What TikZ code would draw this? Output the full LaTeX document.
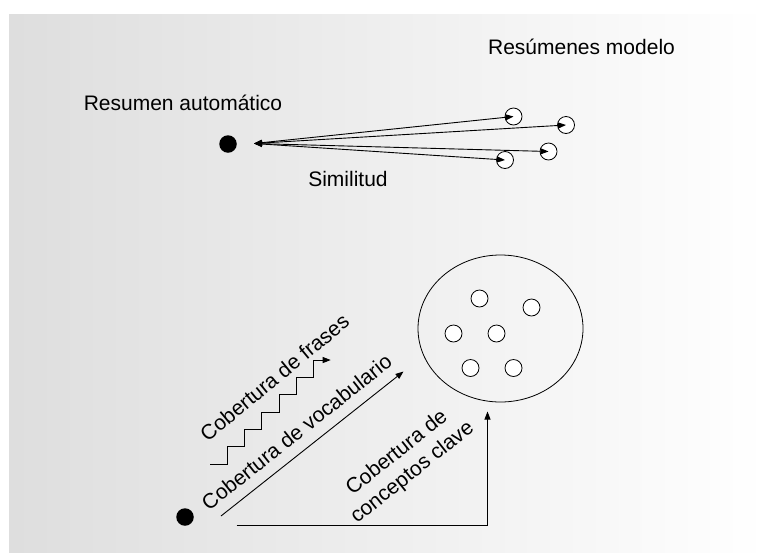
\documentclass[tikz,border=0pt]{standalone}
\usepackage{fontspec}
\setmainfont{Liberation Sans}
\usetikzlibrary{arrows.meta,shapes.geometric}
\tikzset{
  lbl/.style={font=\fontsize{21}{25}\selectfont, inner sep=0pt},
  dot/.style={circle, fill=black, minimum size=17.5pt, inner sep=0pt},
  hollow/.style={circle, draw, fill=white, line width=0.8pt, minimum size=17pt, inner sep=0pt},
  conn/.style={line width=0.9pt, -{Triangle[length=8pt,width=6pt]}},
  biconn/.style={line width=0.9pt, {Triangle[length=8pt,width=6pt]}-{Triangle[length=8pt,width=6pt]}},
}
\begin{document}
\begin{tikzpicture}[x=1pt, y=-1pt]
  % page and shaded panel
  \useasboundingbox (0,0) rectangle (767,552);
  \fill[white] (0,0) rectangle (767,552);
  \shade[left color=black!13, right color=white] (9,14) rectangle (767,552);

  % --- similarity between one summary and the model summaries ---
  \node[lbl, anchor=base] (ra) at (183,110) {Resumen automático};
  \node[lbl, anchor=base] (rm) at (581.5,54.6) {Resúmenes modelo};
  \node[lbl, anchor=base] (sim) at (348,186.6) {Similitud};

  \node[dot] (auto) at (228,144) {};
  \node[hollow] (m1) at (513.5,116.5) {};
  \node[hollow] (m2) at (566,125) {};
  \node[hollow] (m3) at (548.5,151.5) {};
  \node[hollow] (m4) at (505,160) {};
  \coordinate (hub) at (254,143.5);

  \foreach \m in {m1,m2,m3,m4}
    \draw[biconn] (hub) -- (\m.center);

  % --- coverage measures ---
  \node[draw, ellipse, line width=0.8pt, minimum width=165pt, minimum height=147pt, inner sep=0pt] (pool) at (500.5,328.5) {};
  \node[hollow] (c1) at (479.5,298.5) {};
  \node[hollow] (c2) at (531.5,307.5) {};
  \node[hollow] (c3) at (453.5,333.5) {};
  \node[hollow] (c4) at (496.5,333.5) {};
  \node[hollow] (c5) at (470.5,368) {};
  \node[hollow] (c6) at (513.5,368) {};

  \node[dot] (sum) at (185,517) {};

  % phrase coverage: staircase
  \coordinate (st0) at (210,464);
  \draw[conn] (st0) -- ++(17.5,0)
    \foreach \i in {1,...,6} { -- ++(0,-17.33) -- ++(17.2,0) };

  % vocabulary coverage: straight diagonal
  \coordinate (v0) at (221,516);
  \coordinate (v1) at (403.5,371.5);
  \draw[conn] (v0) -- (v1);

  % key concept coverage: right then up
  \coordinate (k0) at (236.5,525);
  \coordinate (k1) at (487.5,411.5);
  \draw[conn] (k0) -| (k1);

  \node[lbl, rotate=39.5] (tf) at (274.5,377.5) {Cobertura de frases};
  \node[lbl, rotate=38.5] (tv) at (296.5,432) {Cobertura de vocabulario};
  \node[lbl, rotate=38.5, align=center] (tk) at (405,463) {Cobertura de\\conceptos clave};
\end{tikzpicture}
\end{document}
